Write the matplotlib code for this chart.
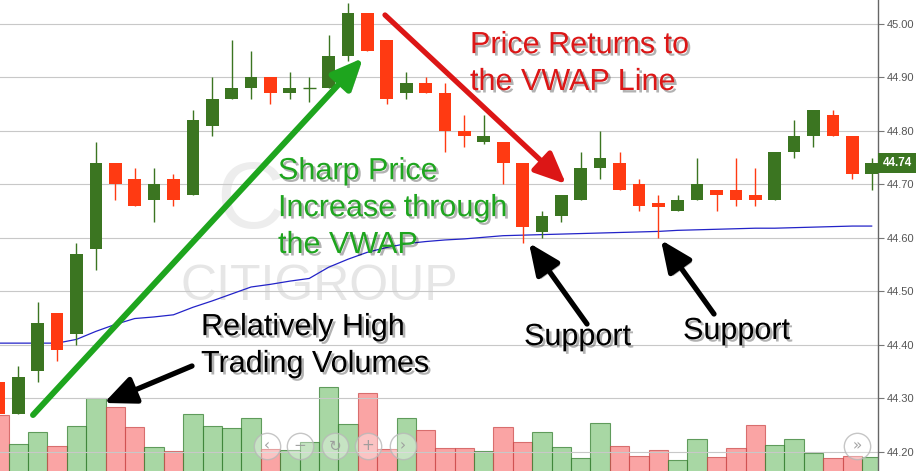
import matplotlib
matplotlib.use("Agg")
import matplotlib.pyplot as plt
import matplotlib.patheffects as pe
from matplotlib.transforms import blended_transform_factory

# ---- intraday candles (C, 1-bar spacing) ----
opens = [44.33, 44.27, 44.35, 44.46, 44.42, 44.58, 44.74, 44.71, 44.67, 44.71,
         44.68, 44.81, 44.86, 44.88, 44.90, 44.87, 44.88, 44.88, 44.94, 45.02,
         44.97, 44.87, 44.89, 44.87, 44.80, 44.78, 44.78, 44.74, 44.61, 44.64,
         44.67, 44.73, 44.74, 44.70, 44.665, 44.65, 44.67, 44.69, 44.69, 44.68,
         44.67, 44.76, 44.79, 44.83, 44.79, 44.72]
highs = [44.34, 44.36, 44.48, 44.46, 44.59, 44.78, 44.74, 44.73, 44.73, 44.72,
         44.84, 44.90, 44.97, 44.95, 44.90, 44.91, 44.90, 44.98, 45.04, 45.02,
         44.97, 44.91, 44.90, 44.89, 44.83, 44.83, 44.78, 44.74, 44.65, 44.68,
         44.76, 44.80, 44.76, 44.71, 44.68, 44.68, 44.75, 44.69, 44.75, 44.73,
         44.76, 44.82, 44.84, 44.84, 44.79, 44.75]
lows = [44.26, 44.27, 44.33, 44.37, 44.40, 44.54, 44.67, 44.66, 44.63, 44.66,
        44.68, 44.79, 44.86, 44.86, 44.85, 44.86, 44.855, 44.88, 44.93, 44.95,
        44.85, 44.86, 44.87, 44.76, 44.77, 44.775, 44.70, 44.59, 44.60, 44.63,
        44.67, 44.71, 44.69, 44.65, 44.60, 44.65, 44.67, 44.65, 44.66, 44.66,
        44.67, 44.75, 44.77, 44.79, 44.71, 44.69]
closes = [44.27, 44.34, 44.44, 44.39, 44.57, 44.74, 44.70, 44.66, 44.70, 44.67,
          44.82, 44.86, 44.88, 44.90, 44.87, 44.88, 44.88, 44.94, 45.02, 44.95,
          44.86, 44.89, 44.87, 44.80, 44.79, 44.79, 44.74, 44.62, 44.64, 44.68,
          44.73, 44.75, 44.69, 44.66, 44.657, 44.67, 44.70, 44.68, 44.67, 44.67,
          44.76, 44.79, 44.84, 44.79, 44.72, 44.74]
volumes = [750, 460, 580, 440, 640, 920, 830, 630, 430, 390,
           760, 640, 620, 720, 410, 400, 480, 1030, 660, 970,
           410, 720, 600, 420, 420, 390, 630, 480, 580, 430,
           320, 670, 440, 340, 400, 300, 510, 330, 420, 650,
           450, 510, 370, 320, 340, 330]
vwap = [44.403, 44.403, 44.403, 44.403, 44.410, 44.425, 44.438, 44.449, 44.452, 44.456,
        44.470, 44.482, 44.495, 44.508, 44.513, 44.519, 44.524, 44.545, 44.560, 44.573,
        44.582, 44.589, 44.593, 44.596, 44.598, 44.601, 44.604, 44.605, 44.606, 44.607,
        44.608, 44.609, 44.610, 44.611, 44.612, 44.614, 44.615, 44.616, 44.617, 44.618,
        44.618, 44.619, 44.620, 44.621, 44.622, 44.622]
price_ticks = [44.20, 44.30, 44.40, 44.50, 44.60, 44.70, 44.80, 44.90, 45.00]
time_grid = [1, 6, 11, 16, 21, 26, 31, 36, 41]

UP = "#3b7521"
DOWN = "#ff3a12"
VOL_UP = (0.29, 0.68, 0.26, 0.48)
VOL_UP_EDGE = (0.22, 0.50, 0.20, 0.75)
VOL_DOWN = (0.96, 0.26, 0.26, 0.48)
VOL_DOWN_EDGE = (0.80, 0.30, 0.30, 0.75)

W, H = 918, 471
PLOT_W = 878
fig = plt.figure(figsize=(W / 100, H / 100), dpi=100, facecolor="white")
axv = fig.add_axes([0, 0, PLOT_W / W, 1])
ax = axv.twinx()

# ---- volume pane (thousand shares), baseline below the visible window ----
n = len(closes)
xs = list(range(n))
for i in xs:
    up = closes[i] >= opens[i]
    axv.bar(i, volumes[i], width=1.0, bottom=0,
            color=VOL_UP if up else VOL_DOWN,
            edgecolor=VOL_UP_EDGE if up else VOL_DOWN_EDGE, linewidth=0.8, zorder=2)
axv.set_ylim(190, 4900)
axv.set_xlim(0.0565, 45.326)
axv.set_yticks([])
for s in axv.spines.values():
    s.set_visible(False)

# ---- price pane ----
ax.set_ylim(44.1638, 45.0449)
ax.set_xlim(0.0565, 45.326)
ax.set_yticks(price_ticks)
ax.set_yticklabels([f"{t:.2f}" for t in price_ticks])
ax.set_xticks(time_grid)
ax.tick_params(axis="x", length=0, labelbottom=False, bottom=False)
axv.tick_params(axis="x", length=0, labelbottom=False, bottom=False)
ax.tick_params(axis="y", right=True, left=False, labelright=True, labelleft=False,
               length=4, width=0.8, color="#777777", labelsize=8,
               labelcolor="#555555", pad=2)
for lab in ax.get_yticklabels():
    lab.set_family("Liberation Sans")
ax.grid(True, color="#c8c8c8", linewidth=0.8, zorder=0)
ax.set_axisbelow(True)
for k in ["left", "top", "bottom"]:
    ax.spines[k].set_visible(False)
ax.spines["right"].set_color("#666666")
ax.spines["right"].set_linewidth(1.0)

# watermark
ax.text(180 / PLOT_W, 1 - 300 / H, "CITIGROUP", transform=ax.transAxes,
        fontsize=36, color="#e6e6e6", family="Liberation Sans", zorder=0.5)
ax.text(216 / PLOT_W, 1 - 228 / H, "C", transform=ax.transAxes,
        fontsize=68, color="#ededed", family="Liberation Sans", zorder=0.5)

# VWAP
ax.plot(xs, vwap, color="#2323c8", linewidth=0.9, zorder=3)

# candles
for i in xs:
    o, h, l, c = opens[i], highs[i], lows[i], closes[i]
    col = UP if c >= o else DOWN
    ax.vlines(i, l, h, color=col, linewidth=1.0, zorder=4)
    if abs(c - o) < 1e-9:
        ax.hlines(o, i - 0.33, i + 0.33, color=col, linewidth=1.0, zorder=4)
    else:
        ax.bar(i, abs(c - o), bottom=min(o, c), width=0.655, color=col,
               linewidth=0, zorder=5)

# last price tag
tag_tf = blended_transform_factory(ax.transAxes, ax.transData)
ax.annotate(f"{closes[-1]:.2f}", xy=(1.0, closes[-1]), xycoords=tag_tf,
            xytext=(3.2, 0), textcoords="offset points", ha="left", va="center",
            fontsize=8.5, fontweight="bold", color="white", family="Liberation Sans",
            bbox=dict(boxstyle="square,pad=0.35", fc=UP, ec="none"),
            annotation_clip=False, zorder=10)

# ---- commentary ----
def fx(px):
    return px / PLOT_W

def fy(py):
    return 1 - py / H

shadow = [pe.withSimplePatchShadow(offset=(1.8, -1.8), shadow_rgbFace="black", alpha=0.3)]
GREEN_NOTE = "#1ea51e"
RED_NOTE = "#dc1616"

def arrow(x0, y0, x1, y1, color, lw):
    ax.annotate("", xy=(fx(x1), fy(y1)), xytext=(fx(x0), fy(y0)),
                xycoords="axes fraction", textcoords="axes fraction",
                arrowprops=dict(arrowstyle="-|>,head_length=0.95,head_width=0.42",
                                color=color, lw=lw, mutation_scale=20,
                                shrinkA=0, shrinkB=0, path_effects=shadow),
                zorder=8)

arrow(33, 415, 363, 58, GREEN_NOTE, 4.3)
arrow(385, 15, 566, 184, RED_NOTE, 3.8)
arrow(192, 366, 104, 403, "black", 3.8)
arrow(587, 324, 529, 243, "black", 3.8)
arrow(714, 314, 661, 240, "black", 3.8)

def note(x, y_last, s, color):
    # y_last: baseline of the last line
    ax.text(fx(x), fy(y_last), s, transform=ax.transAxes, fontsize=22, color=color,
            family="Liberation Sans", va="baseline", ha="left", linespacing=1.3,
            path_effects=shadow, zorder=9)

note(278, 253, "Sharp Price\nIncrease through\nthe VWAP", GREEN_NOTE)
note(470, 90, "Price Returns to\nthe VWAP Line", RED_NOTE)
note(201, 372, "Relatively High\nTrading Volumes", "black")
note(524, 345, "Support", "black")
note(683, 339, "Support", "black")

# chart navigation buttons
nav = [(267, "‹"), (300, "−"), (335, "↻"), (368, "+"), (403, "›"), (857, "»")]
for x, sym in nav:
    ax.plot([fx(x)], [fy(446)], "o", transform=ax.transAxes, ms=19,
            mfc=(1, 1, 1, 0.35), mec=(0.72, 0.72, 0.72, 0.8), mew=1.0, zorder=11,
            clip_on=False)
    ax.text(fx(x), fy(446), sym, transform=ax.transAxes, ha="center", va="center",
            fontsize=11, color=(0.6, 0.6, 0.6, 0.9), family="DejaVu Sans", zorder=12)

fig.savefig("out.png", dpi=100, facecolor="white")
